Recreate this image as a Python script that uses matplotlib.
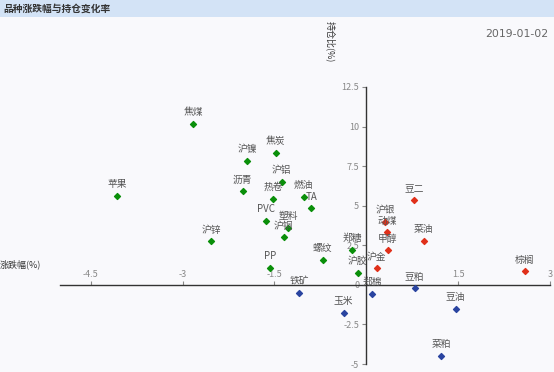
import matplotlib.pyplot as plt
from matplotlib.patches import Rectangle

plt.rcParams['font.family'] = ['Noto Sans CJK SC', 'DejaVu Sans']

# 涨跌幅(%) / 持仓比(%)
green_names = ["焦煤", "沪镍", "焦炭", "沪铝", "沥青", "热卷", "燃油", "TA", "苹果", "沪锌",
               "PVC", "塑料", "沪铜", "PP", "螺纹", "郑糖", "沪胶"]
green_x = [-2.83, -1.94, -1.48, -1.38, -2.02, -1.52, -1.02, -0.90, -4.07, -2.53,
           -1.64, -1.28, -1.35, -1.57, -0.71, -0.23, -0.14]
green_y = [10.16, 7.81, 8.36, 6.50, 5.90, 5.44, 5.54, 4.83, 5.61, 2.75,
           4.02, 3.58, 3.00, 1.08, 1.57, 2.20, 0.76]

red_names = ["豆二", "沪银", "动煤", "甲醇", "菜油", "沪金", "棕榈"]
red_x = [0.78, 0.31, 0.34, 0.35, 0.94, 0.17, 2.59]
red_y = [5.38, 3.94, 3.32, 2.18, 2.79, 1.04, 0.85]

blue_names = ["铁矿", "玉米", "郑棉", "豆粕", "豆油", "菜粕"]
blue_x = [-1.09, -0.37, 0.10, 0.79, 1.46, 1.22]
blue_y = [-0.51, -1.76, -0.59, -0.23, -1.52, -4.47]

x_ticks = [-4.5, -3, -1.5, 1.5, 3]
y_ticks = [-5, -2.5, 0, 2.5, 5, 7.5, 10, 12.5]

fig = plt.figure(figsize=(5.54, 3.72), dpi=100)
fig.patch.set_facecolor("#f9f9fc")

# header band
fig.patches.append(Rectangle((0, 1 - 17 / 372), 1, 17 / 372, transform=fig.transFigure,
                             facecolor="#d3e3f6", edgecolor="none"))
fig.text(3 / 554, 1 - 8.5 / 372, "品种涨跌幅与持仓变化率", fontsize=7, fontweight="bold",
         color="#333333", va="center", ha="left")
fig.text(548 / 554, 1 - 34 / 372, "2019-01-02", fontsize=7.8, color="#666666",
         va="center", ha="right", family="DejaVu Sans")

ax = fig.add_axes([60 / 554, 1 - 364 / 372, 490 / 554, 277 / 372])
ax.set_facecolor("none")
ax.set_xlim(-5, 3)
ax.set_ylim(-5, 12.5)

for spine in ["top", "right"]:
    ax.spines[spine].set_visible(False)
ax.spines["left"].set_position(("data", 0))
ax.spines["bottom"].set_position(("data", 0))
for spine in ["left", "bottom"]:
    ax.spines[spine].set_color("#333333")
    ax.spines[spine].set_linewidth(1)

ax.set_xticks(x_ticks)
ax.set_xticklabels([f"{t:g}" for t in x_ticks])
ax.set_yticks(y_ticks)
ax.set_yticklabels([f"{t:g}" for t in y_ticks])
ax.tick_params(axis="x", direction="in", length=3, pad=-11, labelsize=6.5,
               colors="#888888")
ax.tick_params(axis="y", direction="out", length=3, pad=2, labelsize=6.5,
               colors="#888888")

groups = [(green_names, green_x, green_y, "#0a8f0a"),
          (red_names, red_x, red_y, "#e0301a"),
          (blue_names, blue_x, blue_y, "#2a44a0")]
for names, xs, ys, col in groups:
    ax.scatter(xs, ys, marker="D", s=9, color=col, zorder=3, clip_on=False)
    for n, x, y in zip(names, xs, ys):
        ax.annotate(n, (x, y), xytext=(0, 8.5), textcoords="offset points",
                    ha="center", va="center", fontsize=7, color="#555555")

fig.text(0, 1 - 264 / 372, "涨跌幅(%)", fontsize=6.5, color="#333333",
         va="center", ha="left")
fig.text(330 / 554, 1 - 42 / 372, "持仓比(%)", fontsize=6.5, color="#333333",
         va="center", ha="center", rotation=-90)

fig.savefig("out.png", dpi=100, facecolor=fig.get_facecolor())
